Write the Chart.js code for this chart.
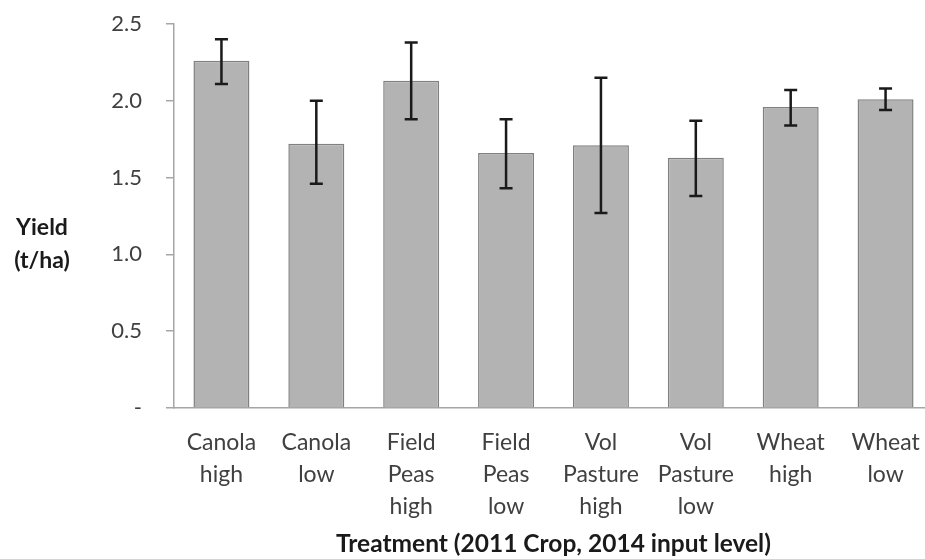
<!DOCTYPE html>
<html>
<head>
<meta charset="utf-8">
<script src="https://cdn.jsdelivr.net/npm/chart.js@4/dist/chart.umd.min.js"></script>
<style>
html,body{margin:0;padding:0;background:#fff;overflow:hidden;}
#wrap{width:925px;height:559px;position:relative;overflow:hidden;}
canvas{display:block;}
</style>
</head>
<body>
<div id="wrap"><canvas id="c" width="933" height="559"></canvas></div>
<script>
const categories = [
  ["Canola","high"],["Canola","low"],["Field","Peas","high"],["Field","Peas","low"],
  ["Vol","Pasture","high"],["Vol","Pasture","low"],["Wheat","high"],["Wheat","low"]
];
const yieldMean = [2.26, 1.72, 2.13, 1.66, 1.71, 1.63, 1.96, 2.01];
const errLower = [2.11, 1.46, 1.88, 1.43, 1.27, 1.38, 1.84, 1.94];
const errUpper = [2.40, 2.00, 2.38, 1.88, 2.15, 1.87, 2.07, 2.08];
const yTicks = [0, 0.5, 1.0, 1.5, 2.0, 2.5];
const yTitleLines = ["Yield", "(t/ha)"];
const xTitle = "Treatment (2011 Crop, 2014 input level)";

const FONT = "Lato, 'Open Sans', sans-serif";

const errorBars = {
  id: 'errorBars',
  afterDatasetsDraw(chart) {
    const ctx = chart.ctx;
    const meta = chart.getDatasetMeta(0);
    const ys = chart.scales.y;
    ctx.save();
    ctx.strokeStyle = '#1a1a1a';
    ctx.lineWidth = 2.5;
    meta.data.forEach((bar, i) => {
      const x = bar.x;
      const yLo = ys.getPixelForValue(errLower[i]);
      const yHi = ys.getPixelForValue(errUpper[i]);
      ctx.beginPath();
      ctx.moveTo(x, yLo); ctx.lineTo(x, yHi);
      ctx.moveTo(x - 6.5, yLo); ctx.lineTo(x + 6.5, yLo);
      ctx.moveTo(x - 6.5, yHi); ctx.lineTo(x + 6.5, yHi);
      ctx.stroke();
    });
    ctx.restore();
  }
};

const yTitle = {
  id: 'yTitle',
  afterDraw(chart) {
    const ctx = chart.ctx;
    ctx.save();
    ctx.fillStyle = '#1a1a1a';
    ctx.font = "bold 23px " + FONT;
    ctx.textAlign = 'center';
    ctx.textBaseline = 'middle';
    ctx.fillText(yTitleLines[0], 42, 228);
    ctx.fillText(yTitleLines[1], 42, 261);
    ctx.restore();
  }
};

new Chart(document.getElementById('c'), {
  type: 'bar',
  data: {
    labels: categories,
    datasets: [{
      data: yieldMean,
      backgroundColor: '#b3b3b3',
      borderColor: '#808080',
      borderWidth: 1.5,
      categoryPercentage: 1.0,
      barPercentage: 0.59
    }]
  },
  options: {
    responsive: false,
    animation: false,
    events: [],
    layout: { padding: { left: 0, right: 0, top: 24, bottom: 0 } },
    plugins: { legend: { display: false }, tooltip: { enabled: false } },
    scales: {
      x: {
        grid: { display: false, drawTicks: false },
        border: { display: true, color: '#a6a6a6', width: 1.5 },
        ticks: {
          color: '#404040',
          font: { family: FONT, size: 23, lineHeight: 1.39 },
          padding: 19,
          maxRotation: 0,
          autoSkip: false
        },
        title: {
          display: true,
          text: xTitle,
          color: '#1a1a1a',
          font: { family: FONT, size: 24.5, weight: 'bold' },
          padding: { top: 0, bottom: 0 }
        },
        afterFit(scale) {
          scale.height = 151;
          scale.paddingLeft = 0; scale.paddingRight = 0;
        }
      },
      y: {
        min: 0, max: 2.5,
        afterBuildTicks(scale) { scale.ticks = yTicks.map(v => ({ value: v })); },
        grid: { drawOnChartArea: false, drawTicks: true, tickLength: 8, color: '#a6a6a6', lineWidth: 1.5 },
        border: { display: true, color: '#a6a6a6', width: 1.5 },
        ticks: {
          color: '#404040',
          font: { family: FONT, size: 22 },
          padding: 24,
          callback: (v) => v === 0 ? '-' : Number(v).toFixed(1)
        },
        afterFit(scale) {
          scale.width = 174;
          scale.paddingTop = 0; scale.paddingBottom = 0;
        }
      }
    }
  },
  plugins: [errorBars, yTitle]
});
</script>
</body>
</html>
